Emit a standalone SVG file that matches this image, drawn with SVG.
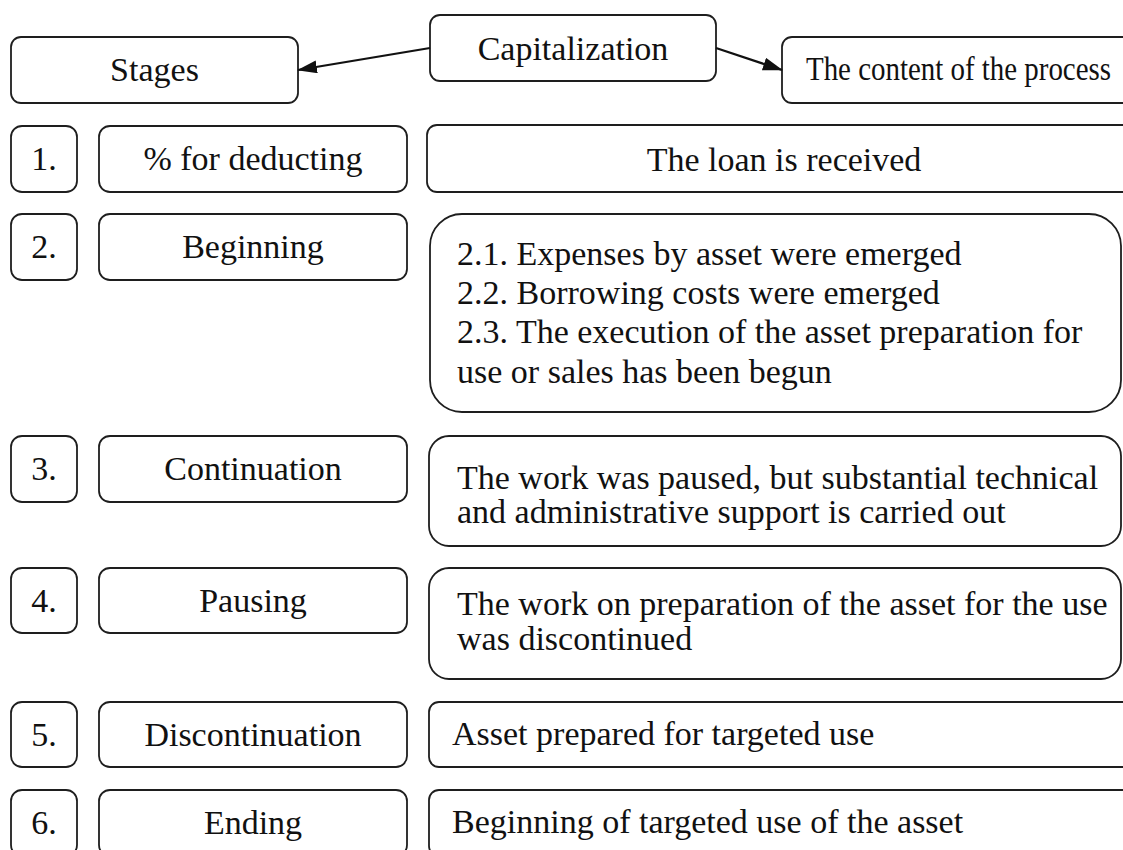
<svg xmlns="http://www.w3.org/2000/svg" width="1123" height="850" viewBox="0 0 1123 850" font-family="'Liberation Serif', 'Times New Roman', serif">
  <style>
    .box { fill: #ffffff; stroke: #1e1e1e; stroke-width: 1.8; }
    .txt { font-family: "Liberation Serif", "Times New Roman", serif; font-size: 34px; fill: #111111; }
    .mid { text-anchor: middle; }
    .link { stroke: #111111; stroke-width: 2.2; fill: none; }
  </style>
  <defs>
    <marker id="arrow" markerUnits="userSpaceOnUse" markerWidth="22" markerHeight="14" refX="19" refY="6.5" orient="auto">
      <path d="M0,0 L20,6.5 L0,13 Z" fill="#111111"/>
    </marker>
  </defs>
  <rect width="1123" height="850" fill="#ffffff"/>

  <!-- header -->
  <g id="capitalization">
    <rect class="box" x="430" y="15" width="286" height="66" rx="10"/>
    <text class="txt mid" x="573" y="60">Capitalization</text>
  </g>
  <g id="stages">
    <rect class="box" x="11" y="37" width="287" height="66" rx="10"/>
    <text class="txt mid" x="154.5" y="81">Stages</text>
  </g>
  <g id="process-content">
    <rect class="box" x="782" y="37" width="370" height="66" rx="10"/>
    <text class="txt" x="806" y="80" textLength="305" lengthAdjust="spacingAndGlyphs">The content of the process</text>
  </g>

  <g id="connectors">
    <line class="link" x1="430" y1="48" x2="298" y2="70" marker-end="url(#arrow)"/>
    <line class="link" x1="716" y1="48" x2="782" y2="70" marker-end="url(#arrow)"/>
  </g>

  <!-- row 1 -->
  <g id="num-1">
    <rect class="box" x="11" y="126" width="66" height="66" rx="11"/>
    <text class="txt mid" x="44" y="170">1.</text>
  </g>
  <g id="stage-1">
    <rect class="box" x="99" y="126" width="308" height="66" rx="11"/>
    <text class="txt mid" x="253" y="170">% for deducting</text>
  </g>
  <g id="content-1">
    <rect class="box" x="427" y="125" width="730" height="67" rx="10"/>
    <text class="txt mid" x="784" y="171">The loan is received</text>
  </g>

  <!-- row 2 -->
  <g id="num-2">
    <rect class="box" x="11" y="214" width="66" height="66" rx="11"/>
    <text class="txt mid" x="44" y="258">2.</text>
  </g>
  <g id="stage-2">
    <rect class="box" x="99" y="214" width="308" height="66" rx="11"/>
    <text class="txt mid" x="253" y="258">Beginning</text>
  </g>
  <g id="content-2">
    <rect class="box" x="430" y="214" width="691" height="198" rx="32"/>
    <text class="txt" x="457" y="265">2.1. Expenses by asset were emerged</text>
    <text class="txt" x="457" y="304">2.2. Borrowing costs were emerged</text>
    <text class="txt" x="457" y="343">2.3. The execution of the asset preparation for</text>
    <text class="txt" x="457" y="383">use or sales has been begun</text>
  </g>

  <!-- row 3 -->
  <g id="num-3">
    <rect class="box" x="11" y="436" width="66" height="66" rx="11"/>
    <text class="txt mid" x="44" y="480">3.</text>
  </g>
  <g id="stage-3">
    <rect class="box" x="99" y="436" width="308" height="66" rx="11"/>
    <text class="txt mid" x="253" y="480">Continuation</text>
  </g>
  <g id="content-3">
    <rect class="box" x="429" y="436" width="692" height="110" rx="20"/>
    <text class="txt" x="457" y="489">The work was paused, but substantial technical</text>
    <text class="txt" x="457" y="523">and administrative support is carried out</text>
  </g>

  <!-- row 4 -->
  <g id="num-4">
    <rect class="box" x="11" y="568" width="66" height="65" rx="11"/>
    <text class="txt mid" x="44" y="612">4.</text>
  </g>
  <g id="stage-4">
    <rect class="box" x="99" y="568" width="308" height="65" rx="11"/>
    <text class="txt mid" x="253" y="612">Pausing</text>
  </g>
  <g id="content-4">
    <rect class="box" x="429" y="568" width="692" height="111" rx="20"/>
    <text class="txt" x="457" y="615">The work on preparation of the asset for the use</text>
    <text class="txt" x="457" y="650">was discontinued</text>
  </g>

  <!-- row 5 -->
  <g id="num-5">
    <rect class="box" x="11" y="702" width="66" height="65" rx="11"/>
    <text class="txt mid" x="44" y="746">5.</text>
  </g>
  <g id="stage-5">
    <rect class="box" x="99" y="702" width="308" height="65" rx="11"/>
    <text class="txt mid" x="253" y="746">Discontinuation</text>
  </g>
  <g id="content-5">
    <rect class="box" x="429" y="702" width="730" height="65" rx="10"/>
    <text class="txt" x="452" y="745">Asset prepared for targeted use</text>
  </g>

  <!-- row 6 -->
  <g id="num-6">
    <rect class="box" x="11" y="790" width="66" height="66" rx="11"/>
    <text class="txt mid" x="44" y="834">6.</text>
  </g>
  <g id="stage-6">
    <rect class="box" x="99" y="790" width="308" height="66" rx="11"/>
    <text class="txt mid" x="253" y="834">Ending</text>
  </g>
  <g id="content-6">
    <rect class="box" x="429" y="790" width="730" height="66" rx="10"/>
    <text class="txt" x="452" y="833">Beginning of targeted use of the asset</text>
  </g>
</svg>
